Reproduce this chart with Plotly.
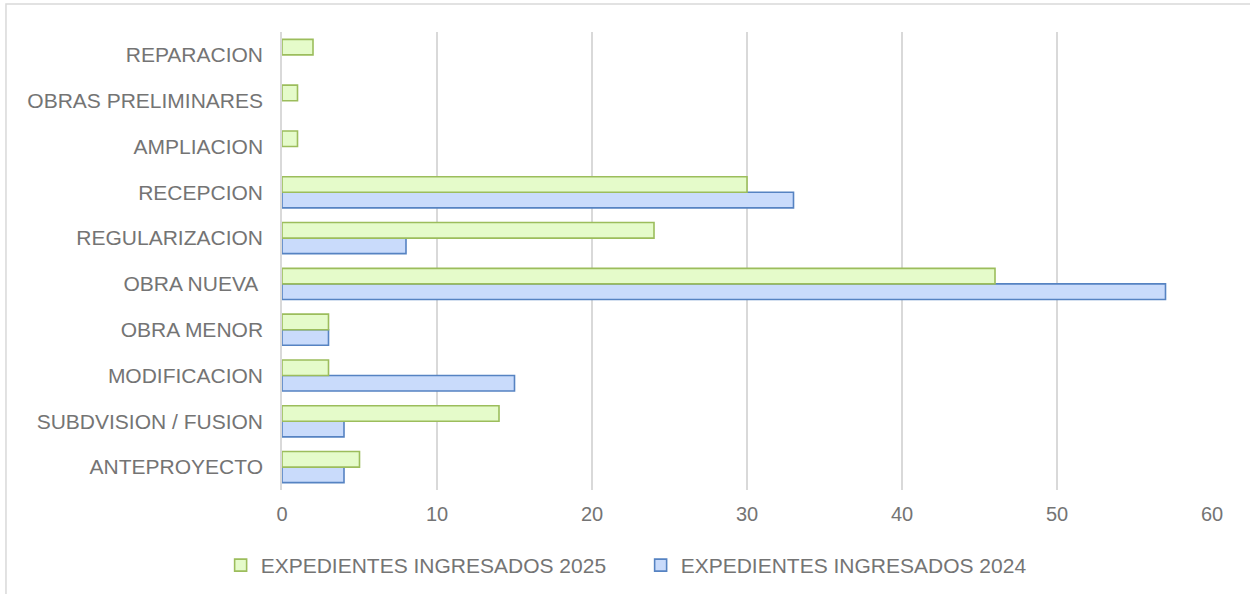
import plotly.graph_objects as go

# categories listed bottom to top
categorias = [
    'ANTEPROYECTO', 'SUBDVISION / FUSION', 'MODIFICACION', 'OBRA MENOR',
    'OBRA NUEVA ', 'REGULARIZACION', 'RECEPCION', 'AMPLIACION',
    'OBRAS PRELIMINARES', 'REPARACION',
]
ingresados_2025 = [5, 14, 3, 3, 46, 24, 30, 1, 1, 2]
ingresados_2024 = [4, 4, 15, 3, 57, 8, 33, None, None, None]
x_ticks = [0, 10, 20, 30, 40, 50, 60]

TEXT = '#747474'
GRID = '#d9d9d9'

fig = go.Figure()

# 2024 goes first so it sits below the 2025 bar in each group
fig.add_trace(go.Bar(
    y=categorias, x=ingresados_2024, orientation='h',
    name='EXPEDIENTES INGRESADOS 2024',
    marker=dict(color='#c9dbfb', line=dict(color='#5683c2', width=1.6)),
))
fig.add_trace(go.Bar(
    y=categorias, x=ingresados_2025, orientation='h',
    name='EXPEDIENTES INGRESADOS 2025',
    marker=dict(color='#e5fbca', line=dict(color='#9cbd5c', width=1.6)),
))

fig.update_layout(
    width=1250, height=594,
    margin=dict(l=282, r=38, t=32, b=104),
    paper_bgcolor='white', plot_bgcolor='white',
    barmode='group', bargap=0.32, bargroupgap=0,
    font=dict(family='Liberation Sans, Arial, sans-serif', size=21, color=TEXT),
    showlegend=True,
    legend=dict(
        orientation='h', traceorder='reversed',
        xref='container', yref='container',
        x=0.5125, xanchor='center', y=0.048, yanchor='middle',
        font=dict(size=21, color=TEXT),
        itemwidth=30, entrywidth=375, entrywidthmode='pixels',
    ),
    shapes=[dict(
        type='rect', xref='paper', yref='paper',
        x0=-0.2968, x1=1.2, y0=-0.4, y1=1.0611,
        line=dict(color=GRID, width=1.5), fillcolor='rgba(0,0,0,0)',
        layer='below',
    )],
)

fig.update_xaxes(
    range=[0, 60], tickvals=x_ticks,
    showgrid=True, gridcolor=GRID, gridwidth=1.5,
    zeroline=False, showline=False,
    ticklabelstandoff=10,
    tickfont=dict(size=20, color=TEXT),
)
fig.update_yaxes(
    type='category', categoryorder='array', categoryarray=categorias,
    showgrid=False, zeroline=False,
    showline=True, linecolor=GRID, linewidth=1.5,
    ticklabelstandoff=13,
    tickfont=dict(size=21, color=TEXT),
)

# page body margin would push the figure 8px down/right
fig.write_html('out.html', config={'displayModeBar': False},
               post_script="document.body.style.margin='0';")
